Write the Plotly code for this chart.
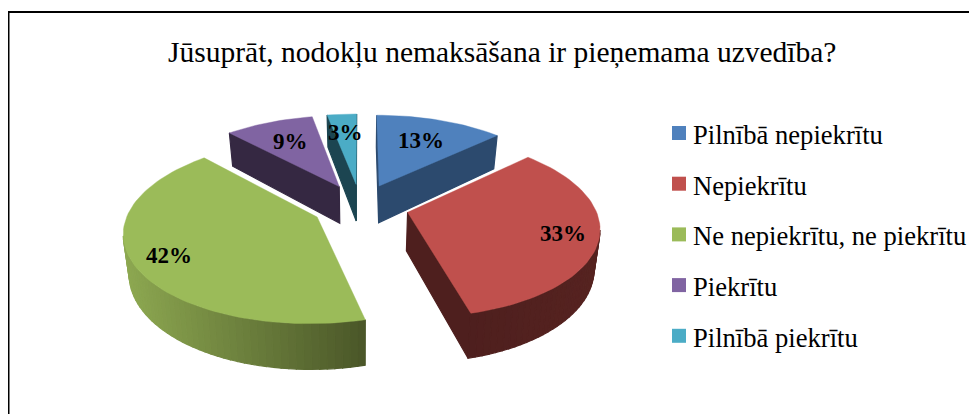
import math

import plotly.graph_objects as go

# ── Chart data ────────────────────────────────────────────────
TITLE = "Jūsuprāt, nodokļu nemaksāšana ir pieņemama uzvedība?"
CATEGORIES = [
    "Pilnībā nepiekrītu",
    "Nepiekrītu",
    "Ne nepiekrītu, ne piekrītu",
    "Piekrītu",
    "Pilnībā piekrītu",
]
VALUES = [13, 33, 42, 9, 3]

TOP_COLORS = ["#4F81BD", "#C0504D", "#9BBB59", "#8064A2", "#4BACC6"]
FACE_COLORS = ["#2C4A6E", "#4E1F1E", "#4A5628", "#352842", "#1C4551"]
ARC_LEFT_COLORS = ["#2C4A6E", "#4E1F1E", "#8DA851", "#352842", "#1C4551"]
ARC_RIGHT_COLORS = ["#2C4A6E", "#562320", "#4A5628", "#352842", "#1C4551"]
LABEL_RADIUS = [0.66, 0.82, 0.82, 0.67, 0.71]

# ── Projection of the tilted pie (screen pixels on the axes) ──
CX, CY = 360.5, 206.0
RADIUS = 187.0
EXPLODE = 48.5
TILT = 0.465
PERSPECTIVE = 0.15
DEPTH = 38.0
BOTTOM_SCALE = 0.975
DRAW_ORDER = [4, 3, 0, 2, 1]

# the page keeps an 8px body margin, so the figure starts 8px in
PAGE_MARGIN = 8
WINDOW_W, WINDOW_H = 977, 414


def project(u, v, bottom=False):
    s = 1 / (1 + PERSPECTIVE * v / RADIUS)
    x = CX + u * s
    y = CY - TILT * v * s
    if bottom:
        x = CX + (x - CX) * BOTTOM_SCALE
        y = y + DEPTH * s
    return x, y


def slice_point(mid, angle, r, bottom=False):
    # angles run clockwise from 12 o'clock
    u = EXPLODE * math.sin(mid) + r * math.sin(angle)
    v = EXPLODE * math.cos(mid) + r * math.cos(angle)
    return project(u, v, bottom)


def mix(c1, c2, t):
    a = [int(c1[i:i + 2], 16) for i in (1, 3, 5)]
    b = [int(c2[i:i + 2], 16) for i in (1, 3, 5)]
    return "#%02x%02x%02x" % tuple(round(p + (q - p) * t) for p, q in zip(a, b))


def polygon(points, color, name=None, width=1.2):
    xs = [p[0] for p in points] + [points[0][0]]
    ys = [p[1] for p in points] + [points[0][1]]
    return go.Scatter(
        x=xs, y=ys,
        mode="lines",
        fill="toself",
        fillcolor=color,
        line=dict(color=color, width=width),
        showlegend=False,
        name=name or "",
        hoverinfo="name" if name else "skip",
    )


fig = go.Figure()
total = sum(VALUES)
starts = [sum(VALUES[:i]) / total * 2 * math.pi for i in range(len(VALUES))]

for i in DRAW_ORDER:
    a0 = starts[i]
    a1 = a0 + VALUES[i] / total * 2 * math.pi
    mid = (a0 + a1) / 2
    steps = max(3, int((a1 - a0) / math.radians(2)))
    angles = [a0 + (a1 - a0) * k / steps for k in range(steps + 1)]

    # Walls: only edges running right-to-left on screen face the viewer
    apex_t = slice_point(mid, 0, 0)
    apex_b = slice_point(mid, 0, 0, True)
    start_t, start_b = slice_point(mid, a0, RADIUS), slice_point(mid, a0, RADIUS, True)
    end_t, end_b = slice_point(mid, a1, RADIUS), slice_point(mid, a1, RADIUS, True)
    if start_t[0] < apex_t[0]:
        fig.add_trace(polygon([apex_t, start_t, start_b, apex_b], FACE_COLORS[i]))
    if apex_t[0] < end_t[0] + 0.01:
        fig.add_trace(polygon([end_t, apex_t, apex_b, end_b], FACE_COLORS[i]))

    arc = [slice_point(mid, a, RADIUS) for a in angles]
    arc_b = [slice_point(mid, a, RADIUS, True) for a in angles]
    visible = [k for k in range(steps) if arc[k + 1][0] < arc[k][0]]
    if visible:
        x_min = min(arc[k + 1][0] for k in visible)
        x_max = max(arc[k][0] for k in visible)
        for k in visible:
            t = ((arc[k][0] + arc[k + 1][0]) / 2 - x_min) / (x_max - x_min)
            color = mix(ARC_LEFT_COLORS[i], ARC_RIGHT_COLORS[i], t)
            fig.add_trace(polygon([arc[k], arc[k + 1], arc_b[k + 1], arc_b[k]], color))

    fig.add_trace(polygon([apex_t] + arc, TOP_COLORS[i], CATEGORIES[i], width=0.4))

# ── Percentage labels ─────────────────────────────────────────
for i, value in enumerate(VALUES):
    a0 = starts[i]
    mid = a0 + value / total * math.pi
    x, y = slice_point(mid, mid, LABEL_RADIUS[i] * RADIUS)
    fig.add_annotation(
        x=x, y=y, text=f"<b>{value}%</b>", showarrow=False,
        font=dict(family="Liberation Serif", size=23, color="#000000"),
    )

# ── Legend, drawn by hand so the key sits tight against the text ──
LEGEND_X, LEGEND_Y, LEGEND_STEP = 679, 133, 50.7
fig.add_trace(go.Scatter(
    x=[LEGEND_X] * len(CATEGORIES),
    y=[LEGEND_Y + LEGEND_STEP * k for k in range(len(CATEGORIES))],
    mode="markers",
    marker=dict(symbol="square", size=14, color=TOP_COLORS),
    showlegend=False,
    hoverinfo="skip",
))
for k, name in enumerate(CATEGORIES):
    fig.add_annotation(
        x=LEGEND_X + 12, y=LEGEND_Y + LEGEND_STEP * k + 2, text=name,
        xanchor="left", showarrow=False,
        font=dict(family="Liberation Serif", size=26.6, color="#000000"),
    )

fig.add_annotation(
    x=502, y=52, text=TITLE, showarrow=False,
    font=dict(family="Liberation Serif", size=29.5, color="#000000"),
)

# frame runs off the right and bottom of the picture
fig.add_shape(
    type="rect", x0=8.5, y0=12, x1=WINDOW_W + 20, y1=WINDOW_H + 20,
    line=dict(color="#000000", width=2),
)

fig.update_layout(
    width=WINDOW_W - PAGE_MARGIN, height=WINDOW_H - PAGE_MARGIN,
    margin=dict(l=0, r=0, t=0, b=0),
    paper_bgcolor="#ffffff",
    plot_bgcolor="#ffffff",
    showlegend=False,
    xaxis=dict(range=[PAGE_MARGIN, WINDOW_W], visible=False, fixedrange=True),
    yaxis=dict(range=[WINDOW_H, PAGE_MARGIN], visible=False, fixedrange=True),
)

fig.write_html("out.html")
